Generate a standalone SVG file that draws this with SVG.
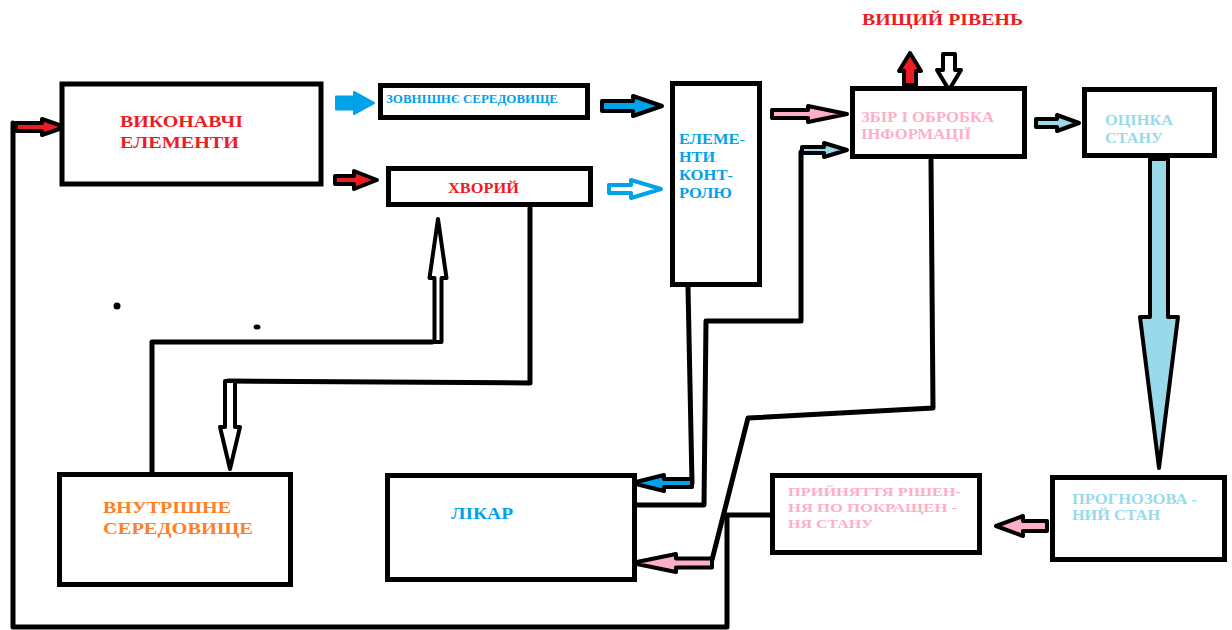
<svg xmlns="http://www.w3.org/2000/svg" width="1232" height="630" viewBox="0 0 1232 630">
<style>
.box{fill:#fff;stroke:#000;stroke-width:5}
.ln{fill:none;stroke:#000;stroke-width:5;stroke-linejoin:round;stroke-linecap:round}
.ar{stroke:#000;stroke-width:4;stroke-linejoin:round}
.t{font-family:"Liberation Serif","Times New Roman",serif;font-weight:bold}
.red{fill:#ED1C24}.blue{fill:#00A2E8}.lblue{fill:#99D9EA}.pink{fill:#FFAEC9}.orange{fill:#FF7F27}
.hollow{fill:#fff;stroke:#000;stroke-width:4;stroke-linejoin:round}
</style>
<rect width="1232" height="630" fill="#fff"/>
<g id="connectors">
<polyline class="ln" points="772,515 727,515 727,627 13,627 13,123"/>
<polyline class="ln" points="931,160 933,408 748,418 712,560"/>
<polyline class="ln" points="637,505 704,505 706,321 801,321 801,152"/>
<polyline class="ln" points="688,287 692,483"/>
<polyline class="ln" points="530,208 530,383 228,381"/>
<polyline class="ln" points="152,472 152,342 432,342"/>
<polygon class="ar red" points="16,123 42,123 42,119 65,127 42,135 42,131 16,131"/>
<polygon class="ar red" points="335,176 354,176 354,171 377,180 354,189 354,184 335,184"/>
<polygon class="blue" stroke="#00A2E8" stroke-width="2" stroke-linejoin="round" points="336,96.5 354,96.5 354,92 374,103 354,114 354,109.5 336,109.5"/>
<polygon class="ar blue" points="602,101 633,101 633,96 662,106 633,116 633,111 602,111"/>
<polygon fill="#fff" stroke="#00A2E8" stroke-width="4" stroke-linejoin="round" points="609,185 631,185 631,180 661,189 631,198 631,193 609,193"/>
<polygon class="ar pink" points="772,110 808,110 808,106 847,114 808,122 808,118 772,118"/>
<polygon class="ar lblue" points="802,147 824,147 824,143 847,150 824,157 824,153 802,153"/>
<polygon class="ar lblue" points="1036,119 1057,119 1057,115 1079,123 1057,131 1057,127 1036,127"/>
<polygon class="ar blue" points="692,479 664,479 664,475 632,483 664,491 664,487 692,487"/>
<polygon class="ar pink" points="712,558.5 676,558.5 676,554 632,563 676,572 676,567.5 712,567.5"/>
<polygon class="ar pink" points="1047,521 1023,521 1023,516 996,526 1023,536 1023,531 1047,531"/>
<polygon class="ar red" points="904,85 904,71 899,71 910,53 921,71 916,71 916,85"/>
<polygon class="hollow" points="943,54 955,54 955,70 961,70 949,90 937,70 943,70"/>
<polygon class="hollow" points="434.5,342 434.5,278 429.5,278 438,219 446.5,278 441.5,278 441.5,342"/>
<polygon class="hollow" points="225,381 235,381 235,427 240,427 230,469 220,427 225,427"/>
<polygon class="ar lblue" points="1150,159 1168,159 1168,317 1178,317 1159,468 1140,317 1150,317"/>
</g>
<g id="dots">
<circle cx="117" cy="306" r="3.5"/>
<ellipse cx="257" cy="327" rx="3.5" ry="2.5"/>
</g>
<g id="vyshchyi">
<text class="t red" x="862" y="25" font-size="17" textLength="161" lengthAdjust="spacingAndGlyphs">ВИЩИЙ РІВЕНЬ</text>
</g>
<g id="vykonavchi">
<rect class="box" x="62" y="84" width="259" height="100"/>
<text class="t red" font-size="17"><tspan x="120" y="127" textLength="123" lengthAdjust="spacingAndGlyphs">ВИКОНАВЧІ</tspan><tspan x="120" y="148" textLength="119" lengthAdjust="spacingAndGlyphs">ЕЛЕМЕНТИ</tspan></text>
</g>
<g id="zovnishne">
<rect class="box" x="380.5" y="85.5" width="207" height="32"/>
<text class="t blue" x="386" y="103" font-size="12" textLength="172" lengthAdjust="spacingAndGlyphs">ЗОВНІШНЄ СЕРЕДОВИЩЕ</text>
</g>
<g id="khvoryi">
<rect class="box" x="388.5" y="168.5" width="202" height="36"/>
<text class="t red" x="448" y="193" font-size="15" textLength="71" lengthAdjust="spacingAndGlyphs">ХВОРИЙ</text>
</g>
<g id="kontrol">
<rect class="box" x="672.5" y="83.5" width="87" height="201"/>
<text class="t blue" font-size="15"><tspan x="679" y="144" textLength="66" lengthAdjust="spacingAndGlyphs">ЕЛЕМЕ-</tspan><tspan x="679" y="162" textLength="36" lengthAdjust="spacingAndGlyphs">НТИ</tspan><tspan x="679" y="180" textLength="54" lengthAdjust="spacingAndGlyphs">КОНТ-</tspan><tspan x="679" y="198" textLength="53" lengthAdjust="spacingAndGlyphs">РОЛЮ</tspan></text>
</g>
<g id="zbir">
<rect class="box" x="852.5" y="88.5" width="172" height="68"/>
<text class="t pink" font-size="15"><tspan x="861" y="122" textLength="133" lengthAdjust="spacingAndGlyphs">ЗБІР І ОБРОБКА</tspan><tspan x="861" y="139" textLength="110" lengthAdjust="spacingAndGlyphs">ІНФОРМАЦІЇ</tspan></text>
</g>
<g id="otsinka">
<rect class="box" x="1084.5" y="89.5" width="130" height="66"/>
<text class="t lblue" font-size="15"><tspan x="1105" y="125" textLength="68" lengthAdjust="spacingAndGlyphs">ОЦІНКА</tspan><tspan x="1105" y="143" textLength="58" lengthAdjust="spacingAndGlyphs">СТАНУ</tspan></text>
</g>
<g id="vnutrishne">
<rect class="box" x="59.5" y="474.5" width="231" height="110"/>
<text class="t orange" font-size="17"><tspan x="103" y="513" textLength="128" lengthAdjust="spacingAndGlyphs">ВНУТРІШНЕ</tspan><tspan x="103" y="534" textLength="150" lengthAdjust="spacingAndGlyphs">СЕРЕДОВИЩЕ</tspan></text>
</g>
<g id="likar">
<rect class="box" x="387.5" y="475.5" width="247" height="104"/>
<text class="t blue" x="451" y="519" font-size="16" textLength="62" lengthAdjust="spacingAndGlyphs">ЛІКАР</text>
</g>
<g id="rishennia">
<rect class="box" x="772.5" y="475.5" width="207" height="77"/>
<text class="t pink" font-size="13.5"><tspan x="788" y="496" textLength="173" lengthAdjust="spacingAndGlyphs">ПРИЙНЯТТЯ РІШЕН-</tspan><tspan x="788" y="512" textLength="169" lengthAdjust="spacingAndGlyphs">НЯ ПО ПОКРАЩЕН -</tspan><tspan x="788" y="528" textLength="85" lengthAdjust="spacingAndGlyphs">НЯ СТАНУ</tspan></text>
</g>
<g id="prognoz">
<rect class="box" x="1052.5" y="477.5" width="172" height="82"/>
<text class="t lblue" font-size="14"><tspan x="1072" y="504" textLength="125" lengthAdjust="spacingAndGlyphs">ПРОГНОЗОВА -</tspan><tspan x="1072" y="520" textLength="88" lengthAdjust="spacingAndGlyphs">НИЙ СТАН</tspan></text>
</g>
</svg>
